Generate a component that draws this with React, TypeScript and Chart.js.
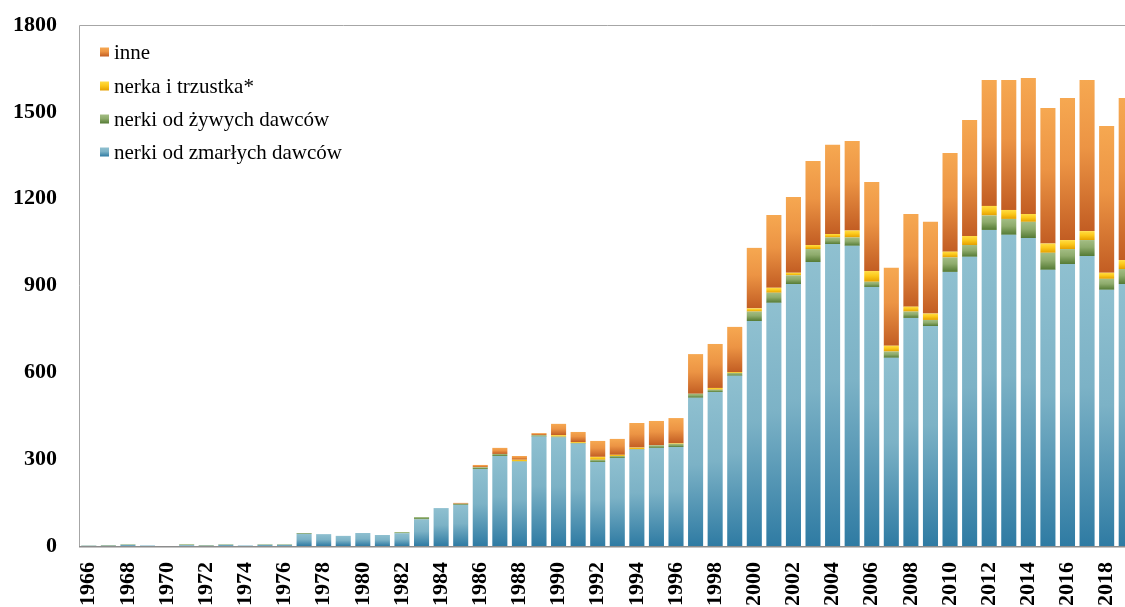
import React, { useEffect, useRef } from "react";
import { Chart, registerables } from "chart.js";

Chart.register(...registerables);

const years = [
  "1966", "1967", "1968", "1969", "1970", "1971", "1972", "1973", "1974", "1975",
  "1976", "1977", "1978", "1979", "1980", "1981", "1982", "1983", "1984", "1985",
  "1986", "1987", "1988", "1989", "1990", "1991", "1992", "1993", "1994", "1995",
  "1996", "1997", "1998", "1999", "2000", "2001", "2002", "2003", "2004", "2005",
  "2006", "2007", "2008", "2009", "2010", "2011", "2012", "2013", "2014", "2015",
  "2016", "2017", "2018", "2019",
];

const shownYears = [
  "1966", "1968", "1970", "1972", "1974", "1976", "1978", "1980", "1982", "1984",
  "1986", "1988", "1990", "1992", "1994", "1996", "1998", "2000", "2002", "2004",
  "2006", "2008", "2010", "2012", "2014", "2016", "2018",
];

const yTicks = [0, 300, 600, 900, 1200, 1500, 1800];

// nerki od zmarłych dawców
const deceased = [
  1, 1, 4, 2, 0, 3, 1, 4, 2, 4,
  4, 42, 41, 35, 45, 38, 44, 92, 131, 142,
  266, 311, 291, 378, 375, 354, 290, 304, 333, 339,
  342, 512, 532, 588, 777, 840, 905, 981, 1043, 1037,
  895, 650, 788, 760, 947, 999, 1092, 1075, 1064, 954,
  974, 1002, 885, 905,
];

// nerki od żywych dawców
const living = [
  1, 2, 2, 0, 0, 3, 2, 2, 0, 2,
  2, 3, 0, 0, 0, 0, 4, 8, 0, 4,
  6, 7, 2, 5, 3, 2, 8, 7, 2, 9,
  11, 14, 8, 10, 33, 35, 30, 45, 23, 29,
  18, 22, 22, 21, 50, 41, 50, 55, 56, 59,
  52, 55, 38, 52,
];

// nerka i trzustka*
const kidneyPancreas = [
  0, 0, 0, 0, 0, 0, 0, 0, 0, 0,
  0, 0, 0, 0, 0, 0, 0, 0, 0, 0,
  0, 0, 5, 0, 5, 3, 10, 4, 5, 0,
  2, 0, 6, 3, 11, 17, 9, 14, 12, 24,
  37, 20, 17, 22, 20, 31, 33, 31, 27, 32,
  31, 31, 21, 31,
];

// inne
const other = [
  0, 0, 0, 0, 0, 0, 0, 0, 0, 0,
  0, 0, 0, 0, 0, 0, 0, 0, 0, 3,
  8, 21, 13, 7, 39, 35, 55, 55, 85, 84,
  87, 137, 152, 156, 209, 252, 262, 290, 308, 309,
  308, 269, 320, 317, 341, 401, 435, 449, 470, 468,
  491, 522, 507, 560,
];

const seriesLabels = [
  "nerki od zmarłych dawców",
  "nerki od żywych dawców",
  "nerka i trzustka*",
  "inne",
];

const seriesValues = [deceased, living, kidneyPancreas, other];

const palettes: string[][] = [
  ["#8fc0d0", "#7cb2c6", "#2f7ba3"],
  ["#a3bd84", "#8eab6c", "#547a34"],
  ["#ffdd45", "#fcc91c", "#e5a000"],
  ["#f6a851", "#ec9444", "#c25d23"],
];

const FONT = "'Liberation Serif', 'Times New Roman', serif";

function makeGradient(ctx: CanvasRenderingContext2D, top: number, bottom: number, pal: string[]) {
  const g = ctx.createLinearGradient(0, top, 0, bottom);
  g.addColorStop(0, pal[0]);
  g.addColorStop(0.45, pal[1]);
  g.addColorStop(1, pal[2]);
  return g;
}

const frameAndLegend = {
  id: "frameAndLegend",
  beforeDatasetsDraw(chart: any) {
    const { ctx, chartArea } = chart;
    ctx.save();
    ctx.strokeStyle = "#a6a6a6";
    ctx.lineWidth = 1;
    ctx.beginPath();
    ctx.moveTo(chartArea.left + 0.5, chartArea.bottom);
    ctx.lineTo(chartArea.left + 0.5, chartArea.top + 0.5);
    ctx.lineTo(chartArea.right, chartArea.top + 0.5);
    ctx.stroke();
    ctx.restore();
  },
  afterDraw(chart: any) {
    const { ctx, chartArea } = chart;
    ctx.save();
    // bottom axis line
    ctx.strokeStyle = "#8c8c8c";
    ctx.lineWidth = 1.5;
    ctx.beginPath();
    ctx.moveTo(chartArea.left, chartArea.bottom + 0.75);
    ctx.lineTo(chartArea.right, chartArea.bottom + 0.75);
    ctx.stroke();
    // legend
    const x0 = chartArea.left + 21;
    const rowY = [52, 86, 119, 152];
    const order = [3, 2, 1, 0];
    ctx.font = `21px ${FONT}`;
    ctx.textBaseline = "middle";
    ctx.textAlign = "left";
    order.forEach((di, r) => {
      const y = rowY[r];
      ctx.fillStyle = makeGradient(ctx, y - 4.5, y + 4.5, palettes[di]);
      ctx.fillRect(x0, y - 4.5, 9, 9);
      ctx.fillStyle = "#000";
      ctx.fillText(chart.data.datasets[di].label, x0 + 14, y + 1);
    });
    ctx.restore();
  },
};

export default function App() {
  const canvasRef = useRef<HTMLCanvasElement | null>(null);

  useEffect(() => {
    const canvas = canvasRef.current;
    if (!canvas) return;

    const datasets = seriesValues.map((vals, di) => ({
      label: seriesLabels[di],
      data: vals,
      stack: "s",
      barPercentage: 0.77,
      categoryPercentage: 1,
      borderWidth: 0,
      backgroundColor: (c: any) => {
        const chart = c.chart;
        const pal = palettes[di];
        if (!chart.chartArea || c.type !== "data" || !chart.scales || !chart.scales.y) return pal[1];
        const i = c.dataIndex;
        let base = 0;
        for (let k = 0; k < di; k++) base += seriesValues[k][i];
        const top = base + seriesValues[di][i];
        const yTop = chart.scales.y.getPixelForValue(top);
        const yBot = chart.scales.y.getPixelForValue(base);
        if (!isFinite(yTop) || !isFinite(yBot) || yBot - yTop < 0.5) return pal[1];
        return makeGradient(chart.ctx, yTop, yBot, pal);
      },
    }));

    const chart = new Chart(canvas, {
      type: "bar",
      data: { labels: years, datasets },
      options: {
        responsive: false,
        animation: false,
        devicePixelRatio: 1,
        layout: { padding: { top: 25, left: 0, right: 0, bottom: 0 } },
        plugins: {
          legend: { display: false },
          tooltip: { enabled: false },
        },
        scales: {
          x: {
            stacked: true,
            grid: { display: false, drawTicks: false },
            border: { display: false },
            ticks: {
              autoSkip: false,
              maxRotation: 90,
              minRotation: 90,
              padding: 16,
              color: "#000",
              font: { family: FONT, size: 22, weight: "bold" },
              callback: (_v: any, idx: number) => (shownYears.includes(years[idx]) ? years[idx] : ""),
            },
            afterFit: (s: any) => {
              s.height = 61;
              s.paddingLeft = 0;
              s.paddingRight = 0;
            },
          },
          y: {
            stacked: true,
            min: 0,
            max: 1800,
            grid: { display: false, drawTicks: false },
            border: { display: false },
            afterBuildTicks: (s: any) => {
              s.ticks = yTicks.map((v) => ({ value: v }));
            },
            ticks: {
              padding: 22,
              color: "#000",
              font: { family: FONT, size: 22, weight: "bold" },
              callback: (v: any) => String(v),
            },
            afterFit: (s: any) => {
              s.width = 79;
              s.paddingTop = 0;
              s.paddingBottom = 0;
            },
          },
        },
      },
      plugins: [frameAndLegend],
    });

    return () => chart.destroy();
  }, []);

  return (
    <div
      style={{
        position: "fixed",
        left: 0,
        top: 0,
        width: 1125,
        height: 607,
        overflow: "hidden",
        background: "#fff",
      }}
    >
      <canvas ref={canvasRef} width={1136} height={607} style={{ display: "block", width: 1136, height: 607 }} />
    </div>
  );
}
